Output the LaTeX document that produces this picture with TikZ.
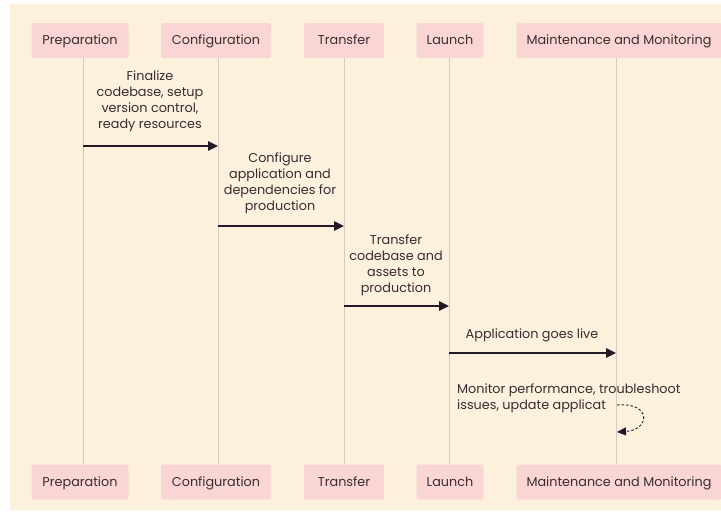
\documentclass[tikz,border=0pt]{standalone}
\usepackage{fontspec}
\setmainfont{Poppins}
\usetikzlibrary{arrows.meta}
\definecolor{cream}{HTML}{FDF0DC}
\definecolor{boxpink}{HTML}{F9D6D4}
\definecolor{lifegray}{HTML}{D9C8C0}
\definecolor{ink}{HTML}{3A2C30}
\definecolor{arrowink}{HTML}{221A26}
\newcommand{\actorfont}{\fontsize{12.8}{15}\selectfont}
\newcommand{\msgfont}{\fontsize{12.8}{16}\selectfont}

\begin{document}
\begin{tikzpicture}[x=1pt, y=-1pt,
  actor/.style={fill=boxpink, rounded corners=2pt, minimum height=35pt, inner xsep=10pt, text height=10pt, text depth=2pt, text=ink, font=\actorfont},
  lifeline/.style={draw=lifegray, line width=0.9pt},
  msgtext/.style={align=center, text=ink, font=\msgfont, inner sep=0pt},
  msgarrow/.style={draw=arrowink, line width=1.2pt, -{Triangle[length=10pt,width=9.5pt]}},
  selfarrow/.style={draw=arrowink, line width=0.9pt, dash pattern=on 2.5pt off 2pt, -{Triangle[length=9pt,width=8pt]}}]
 \useasboundingbox (0,0) rectangle (721,514);
 \fill[cream] (10,4) rectangle (721,510);

 \node[actor, minimum width=97pt]  (prep)    at (80 , 40.5) {Preparation};
 \node[actor, minimum width=110pt] (conf)    at (216, 40.5) {Configuration};
 \node[actor, minimum width=80pt]  (trans)   at (344, 40.5) {Transfer};
 \node[actor, minimum width=67pt]  (launch)  at (450, 40.5) {Launch};
 \node[actor, minimum width=204pt] (maint)   at (619, 40.5) {Maintenance and Monitoring};

 \node[actor, minimum width=97pt]  (prepb)   at (80 , 482) {Preparation};
 \node[actor, minimum width=110pt] (confb)   at (216, 482) {Configuration};
 \node[actor, minimum width=80pt]  (transb)  at (344, 482) {Transfer};
 \node[actor, minimum width=67pt]  (launchb) at (450, 482) {Launch};
 \node[actor, minimum width=204pt] (maintb)  at (619, 482) {Maintenance and Monitoring};

 \draw[lifeline] ([xshift=3pt]prep.south) to ([xshift=3pt]prepb.north);
 \draw[lifeline] ([xshift=2pt]conf.south) to ([xshift=2pt]confb.north);
 \draw[lifeline] (trans.south) to (transb.north);
 \draw[lifeline] ([xshift=-1pt]launch.south) to ([xshift=-1pt]launchb.north);
 \draw[lifeline] ([xshift=-3pt]maint.south) to ([xshift=-3pt]maintb.north);

 \coordinate (m1a) at (83 , 146);
 \coordinate (m1b) at (218, 146);
 \coordinate (m2a) at (218, 226);
 \coordinate (m2b) at (344, 226);
 \coordinate (m3a) at (344, 306);
 \coordinate (m3b) at (449, 306);
 \coordinate (m4a) at (449, 353);
 \coordinate (m4b) at (616, 353);
 \coordinate (m5a) at (617, 405);
 \coordinate (m5b) at (617, 432);

 \node[msgtext] (t1) at (150, 101)   {Finalize\\codebase, setup\\version control,\\ready resources};
 \node[msgtext] (t2) at (280, 183.5) {Configure\\application and\\dependencies for\\production};
 \node[msgtext] (t3) at (396, 265.5) {Transfer\\codebase and\\assets to\\production};
 \node[msgtext] (t4) at (532, 335)   {Application goes live};
 \node[msgtext, align=left, anchor=west] (t5) at (457, 398) {Monitor performance, troubleshoot\\issues, update applicat};

 \draw[msgarrow] (m1a) to (m1b);
 \draw[msgarrow] (m2a) to (m2b);
 \draw[msgarrow] (m3a) to (m3b);
 \draw[msgarrow] (m4a) to (m4b);
 \draw[selfarrow] (m5a) .. controls (652,402) and (650,430) .. (m5b);
\end{tikzpicture}
\end{document}
